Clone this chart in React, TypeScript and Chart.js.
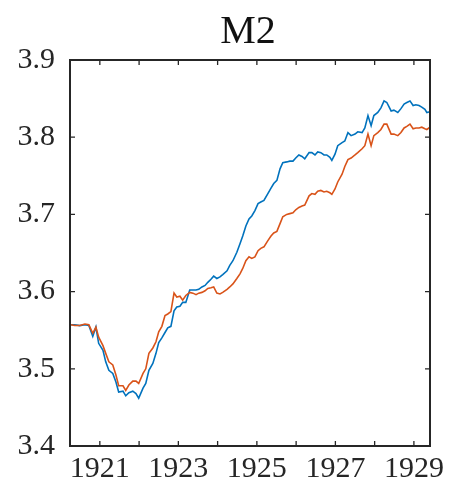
import React, { useEffect, useRef } from "react";
import { Chart, registerables } from "chart.js";

Chart.register(...registerables);

const titleText = "M2";
const years = [1920.26,1920.36,1920.49,1920.62,1920.72,1920.82,1920.90,1920.97,1921.08,1921.15,1921.23,1921.33,1921.41,1921.48,1921.59,1921.66,1921.74,1921.84,1921.92,1921.99,1922.10,1922.17,1922.25,1922.35,1922.43,1922.50,1922.58,1922.66,1922.73,1922.81,1922.89,1922.96,1923.04,1923.11,1923.19,1923.29,1923.37,1923.45,1923.52,1923.60,1923.68,1923.75,1923.83,1923.90,1923.98,1924.06,1924.13,1924.24,1924.31,1924.39,1924.49,1924.57,1924.64,1924.72,1924.80,1924.87,1924.95,1925.03,1925.10,1925.18,1925.28,1925.36,1925.43,1925.51,1925.59,1925.66,1925.76,1925.84,1925.92,1925.99,1926.07,1926.15,1926.22,1926.33,1926.40,1926.48,1926.55,1926.63,1926.71,1926.78,1926.86,1926.91,1926.99,1927.06,1927.17,1927.24,1927.32,1927.40,1927.50,1927.57,1927.68,1927.75,1927.83,1927.91,1927.98,1928.08,1928.16,1928.24,1928.31,1928.42,1928.49,1928.59,1928.67,1928.75,1928.82,1928.90,1928.98,1929.05,1929.13,1929.20,1929.28,1929.33,1929.41];

const blueSeries = [3.557,3.557,3.556,3.557,3.556,
3.542,3.554,3.533,3.524,3.509,3.498,3.494,3.483,3.470,3.471,
3.465,3.469,3.471,3.468,3.462,3.475,3.481,3.498,3.507,3.520,
3.534,3.540,3.547,3.553,3.555,3.575,3.580,3.581,3.586,3.586,
3.602,3.602,3.602,3.603,3.606,3.608,3.612,3.616,3.620,3.617,
3.619,3.622,3.627,3.634,3.640,3.651,3.662,3.672,3.685,3.694,
3.698,3.705,3.714,3.716,3.718,3.727,3.734,3.740,3.744,3.759,
3.767,3.768,3.769,3.769,3.773,3.777,3.775,3.772,3.780,3.780,
3.777,3.781,3.780,3.777,3.777,3.774,3.770,3.778,3.789,3.793,
3.795,3.806,3.802,3.804,3.807,3.806,3.812,3.828,3.815,3.828,
3.832,3.838,3.847,3.845,3.834,3.835,3.832,3.837,3.843,3.845,
3.847,3.841,3.842,3.841,3.839,3.836,3.832,3.833];

const orangeSeries = [3.557,3.556,3.556,3.558,3.557,
3.546,3.554,3.541,3.530,3.520,3.509,3.505,3.492,3.478,3.478,
3.472,3.479,3.484,3.484,3.481,3.494,3.500,3.520,3.527,3.535,
3.548,3.555,3.569,3.571,3.574,3.598,3.593,3.594,3.589,3.595,
3.599,3.598,3.596,3.598,3.599,3.601,3.604,3.605,3.606,3.598,
3.597,3.599,3.603,3.606,3.610,3.617,3.623,3.630,3.640,3.645,
3.643,3.645,3.653,3.656,3.658,3.666,3.672,3.676,3.678,3.688,
3.697,3.700,3.701,3.702,3.706,3.709,3.711,3.712,3.724,3.727,
3.726,3.730,3.731,3.729,3.730,3.728,3.726,3.733,3.742,3.752,
3.762,3.771,3.773,3.777,3.780,3.785,3.789,3.804,3.789,3.802,
3.806,3.810,3.817,3.817,3.804,3.804,3.802,3.806,3.812,3.814,
3.817,3.811,3.812,3.812,3.813,3.811,3.810,3.813];

const xTickValues = [1921,1922,1923,1924,1925,1926,1927,1928,1929];
const xTickLabels = ["1921","","1923","","1925","","1927","","1929"];
const yTickValues = [3.4,3.5,3.6,3.7,3.8,3.9];
const yTickLabels = ["3.4","3.5","3.6","3.7","3.8","3.9"];

const AXIS = "#262626";
const FONT = "'Liberation Serif', 'Times New Roman', serif";

export default function App() {
  const ref = useRef<HTMLCanvasElement | null>(null);

  useEffect(() => {
    const canvas = ref.current;
    if (!canvas) return;

    const boxPlugin = {
      id: "matlabBox",
      afterDatasetsDraw(chart: any) {
        const { ctx, chartArea } = chart;
        const { left, right, top, bottom } = chartArea;
        const xs = chart.scales.x;
        const ys = chart.scales.y;
        ctx.save();
        ctx.strokeStyle = AXIS;
        ctx.lineWidth = 1.3;
        const tl = 5;
        ctx.beginPath();
        xTickValues.forEach((v) => {
          const px = xs.getPixelForValue(v);
          ctx.moveTo(px, bottom);
          ctx.lineTo(px, bottom - tl);
          ctx.moveTo(px, top);
          ctx.lineTo(px, top + tl);
        });
        yTickValues.forEach((v) => {
          const py = ys.getPixelForValue(v);
          ctx.moveTo(left, py);
          ctx.lineTo(left + tl, py);
          ctx.moveTo(right, py);
          ctx.lineTo(right - tl, py);
        });
        ctx.stroke();
        ctx.lineWidth = 2;
        ctx.strokeRect(left, top, right - left, bottom - top);
        ctx.fillStyle = "#111111";
        ctx.font = `40px ${FONT}`;
        ctx.textAlign = "center";
        ctx.textBaseline = "alphabetic";
        ctx.fillText(titleText, (left + right) / 2 - 2, 43);
        ctx.restore();
      },
    };

    const chart = new Chart(canvas, {
      type: "line",
      data: {
        datasets: [
          {
            label: "orange",
            data: years.map((x, i) => ({ x, y: orangeSeries[i] })),
            borderColor: "#D95319",
            borderWidth: 1.6,
            pointRadius: 0,
            tension: 0,
          },
          {
            label: "blue",
            data: years.map((x, i) => ({ x, y: blueSeries[i] })),
            borderColor: "#0072BD",
            borderWidth: 1.6,
            pointRadius: 0,
            tension: 0,
          },
        ],
      },
      options: {
        animation: false,
        responsive: false,
        maintainAspectRatio: false,
        layout: { padding: { top: 60, right: 21, bottom: 0, left: 0 } },
        plugins: {
          legend: { display: false },
          tooltip: { enabled: false },
          title: { display: false },
        },
        scales: {
          x: {
            type: "linear",
            min: 1920.24,
            max: 1929.41,
            grid: { display: false, drawTicks: false },
            border: { display: false },
            afterBuildTicks: (scale: any) => {
              scale.ticks = xTickValues.map((v) => ({ value: v }));
            },
            afterFit: (scale: any) => {
              scale.height = 46;
            },
            ticks: {
              autoSkip: false,
              maxRotation: 0,
              padding: 5,
              color: AXIS,
              font: { family: FONT, size: 30 },
              callback: (v: any) => {
                const i = xTickValues.indexOf(Number(v));
                return i >= 0 ? xTickLabels[i] : "";
              },
            },
          },
          y: {
            type: "linear",
            min: 3.4,
            max: 3.9,
            grid: { display: false, drawTicks: false },
            border: { display: false },
            afterBuildTicks: (scale: any) => {
              scale.ticks = yTickValues.map((v) => ({ value: v }));
            },
            afterFit: (scale: any) => {
              scale.width = 70;
            },
            ticks: {
              autoSkip: false,
              padding: 15,
              color: AXIS,
              font: { family: FONT, size: 30 },
              callback: (v: any) => {
                const i = yTickValues.findIndex((t) => Math.abs(t - Number(v)) < 1e-6);
                return i >= 0 ? yTickLabels[i] : "";
              },
            },
          },
        },
      },
      plugins: [boxPlugin],
    });

    return () => chart.destroy();
  }, []);

  return (
    <div style={{ position: "fixed", left: 0, top: 0, width: 451, height: 492, background: "#fff" }}>
      <canvas ref={ref} width={451} height={492} style={{ display: "block", width: 451, height: 492 }} />
    </div>
  );
}
